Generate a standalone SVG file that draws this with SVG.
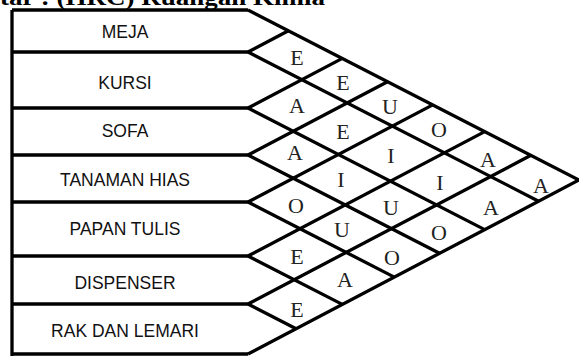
<svg xmlns="http://www.w3.org/2000/svg" width="579" height="356" viewBox="0 0 579 356">
<style>
.ln{fill:none;stroke:#000;stroke-width:3.3;stroke-linejoin:miter;stroke-linecap:butt}
.lbl{font-family:"Liberation Sans",Arial,sans-serif;font-size:17.5px;fill:#111;text-anchor:middle}
.v{font-family:"Liberation Serif","Times New Roman",serif;font-size:22px;fill:#222;text-anchor:middle}
.ttl{font-family:"Liberation Serif","Times New Roman",serif;font-size:24px;font-weight:bold;fill:#000}
</style>
<rect width="579" height="356" fill="#fff"/>
<text class="ttl" x="0" y="5" textLength="325" lengthAdjust="spacingAndGlyphs">tar : (HRC) Ruangan Kimia</text>
<g id="connectors">
<path class="ln" d="M12 10 V356 M12 10 H248 M12 52 H248 M12 108 H248 M12 155 H248 M12 202 H248 M12 256 H248 M12 304 H248 M12 354 H248"/>
<path class="ln" d="M248 10 L579 180 M248 52 L538.6 201.2 M248 108 L484.7 229.6 M248 155 L439.5 253.3 M248 202 L394.3 277.1 M248 256 L342.3 304.4 M248 304 L296.1 328.7"/>
<path class="ln" d="M248 52 L288.4 30.8 M248 108 L342.3 58.4 M248 155 L387.5 81.7 M248 202 L432.7 104.9 M248 256 L484.7 131.6 M248 304 L530.9 155.3 M248 354 L579 180"/>
</g>
<g id="row-meja"><text class="lbl" x="125" y="38">MEJA</text></g>
<g id="row-kursi"><text class="lbl" x="125" y="89">KURSI</text></g>
<g id="row-sofa"><text class="lbl" x="125" y="137">SOFA</text></g>
<g id="row-tanaman"><text class="lbl" x="125" y="186">TANAMAN HIAS</text></g>
<g id="row-papan"><text class="lbl" x="125" y="235">PAPAN TULIS</text></g>
<g id="row-dispenser"><text class="lbl" x="125" y="289">DISPENSER</text></g>
<g id="row-rak"><text class="lbl" x="125" y="337">RAK DAN LEMARI</text></g>
<g id="cells">
<text class="v" x="297" y="65">E</text>
<text class="v" x="343" y="90">E</text>
<text class="v" x="390" y="114">U</text>
<text class="v" x="439" y="137">O</text>
<text class="v" x="488" y="167">A</text>
<text class="v" x="541" y="193">A</text>
<text class="v" x="297" y="113">A</text>
<text class="v" x="343" y="139">E</text>
<text class="v" x="391" y="163">I</text>
<text class="v" x="440" y="190">I</text>
<text class="v" x="491" y="215">A</text>
<text class="v" x="295" y="160">A</text>
<text class="v" x="341" y="187">I</text>
<text class="v" x="391" y="215">U</text>
<text class="v" x="439" y="240">O</text>
<text class="v" x="296" y="213">O</text>
<text class="v" x="342" y="237">U</text>
<text class="v" x="392" y="265">O</text>
<text class="v" x="297" y="264">E</text>
<text class="v" x="345" y="287">A</text>
<text class="v" x="297" y="317">E</text>
</g>
</svg>
